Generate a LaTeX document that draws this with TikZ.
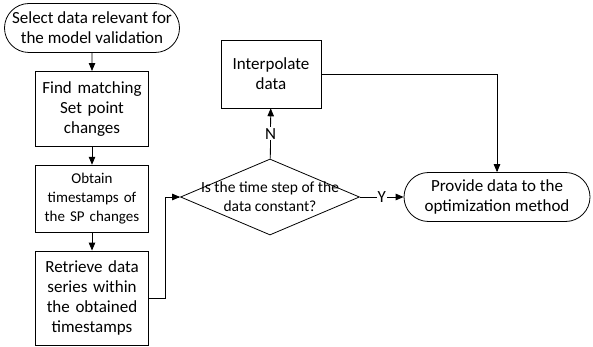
\documentclass[tikz,border=0pt]{standalone}
\usepackage{fontspec}
\setmainfont{Carlito}
\usetikzlibrary{arrows,positioning,shapes.geometric,shapes.misc}
\tikzstyle{term node}=[rounded rectangle, draw, thick, align=center, font=\fontsize{17}{20}\selectfont, minimum height=49pt, inner sep=2pt]
\tikzstyle{proc node}=[rectangle, draw, thick, align=center, text width=105pt, minimum width=113pt, inner xsep=4pt, font=\fontsize{17}{20}\selectfont]
\tikzstyle{dec node}=[diamond, draw, thick, minimum width=179pt, minimum height=76pt, inner sep=0pt, shape aspect=2.35]

\begin{document}
\begin{tikzpicture}[x=1pt, y=1pt, ->, >=triangle 45, thick, node distance=18pt]
\useasboundingbox (0,0) rectangle (593,-347);
%
  \node[term node, minimum width=179pt] (sel) at (92,-28) {Select data relevant for\\the model validation};
  \node[proc node, minimum height=75pt] (find) [below=of sel] {Find matching\\Set point\\changes};
  \node[proc node, minimum height=67pt, font=\fontsize{15}{19}\selectfont] (obt) [below=of find] {Obtain\\timestamps of\\the SP changes};
  \node[proc node, minimum height=94pt] (ret) [below=of obt] {Retrieve data\\series within\\the obtained\\timestamps};
%
  \node[dec node, label={[align=center, font=\fontsize{15.5}{19}\selectfont]center:Is the time step of the\\data constant?}] (dec) at (270,-197) {};
  \node[proc node, text width=92pt, minimum width=100pt, minimum height=68pt] (interp) at (271,-74) {Interpolate\\data};
  \node[term node, minimum width=190pt] (prov) at (497,-197) {Provide data to the\\optimization method};
%
 \path[every node/.style={font=\fontsize{17}{20}\selectfont, fill=white, inner sep=1pt}]
	(sel) edge (find)
	(find) edge (obt)
	(obt) edge (ret)
	(dec) edge node {N} (interp)
	(dec) edge node {Y} (prov);
 \draw (ret.east) -- ++(16,0) |- (dec.west);
 \draw (interp.east) -| (prov.north);
%
\end{tikzpicture}
\end{document}
